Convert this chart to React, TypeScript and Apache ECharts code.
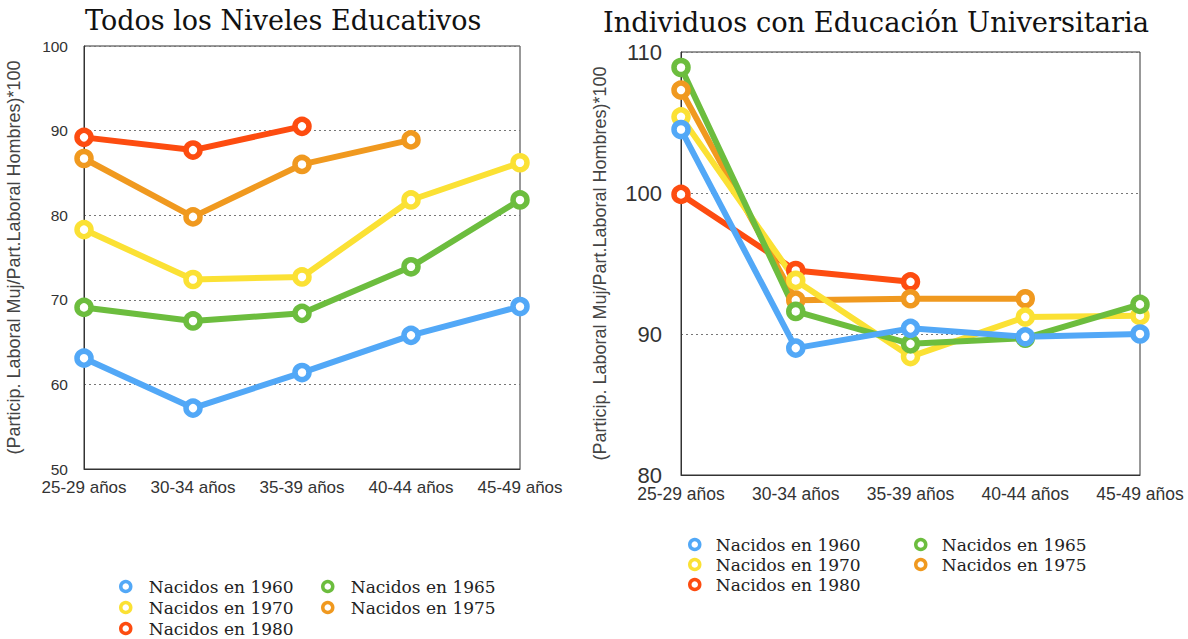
import React, { useEffect, useRef } from "react";
import * as echarts from "echarts";

const categories = ["25-29 años", "30-34 años", "35-39 años", "40-44 años", "45-49 años"];
const seriesNames = ["Nacidos en 1960", "Nacidos en 1965", "Nacidos en 1970", "Nacidos en 1975", "Nacidos en 1980"];
const colors = ["#52a8f7", "#6cbd3e", "#fbe134", "#f0991f", "#fd4c10"];

// Todos los Niveles Educativos
const left1960 = [63.1, 57.2, 61.4, 65.8, 69.2];
const left1965 = [69.1, 67.5, 68.4, 73.9, 81.8];
const left1970 = [78.3, 72.4, 72.7, 81.8, 86.2];
const left1975 = [86.7, 79.8, 86.0, 88.9, null];
const left1980 = [89.2, 87.7, 90.5, null, null];

// Individuos con Educación Universitaria
const right1960 = [104.5, 89.0, 90.4, 89.8, 90.0];
const right1965 = [108.9, 91.6, 89.3, 89.7, 92.1];
const right1970 = [105.4, 93.8, 88.4, 91.2, 91.3];
const right1975 = [107.3, 92.4, 92.5, 92.5, null];
const right1980 = [99.9, 94.5, 93.7, null, null];

const titles = ["Todos los Niveles Educativos", "Individuos con Educación Universitaria"];
const yAxisName = "(Particip. Laboral Muj/Part.Laboral Hombres)*100";

export default function App() {
  const ref = useRef<HTMLDivElement>(null);
  useEffect(() => {
    document.body.style.margin = "0";
    if (!ref.current) return;
    const chart = echarts.init(ref.current, undefined, { renderer: "svg" });
    const leftData = [left1960, left1965, left1970, left1975, left1980];
    const rightData = [right1960, right1965, right1970, right1975, right1980];
    const order = [4, 3, 2, 1, 0];
    const mkSeries = (data: (number | null)[][], idx: number) =>
      order.map((i) => ({
        type: "line",
        name: seriesNames[i],
        xAxisIndex: idx,
        yAxisIndex: idx,
        data: data[i],
        symbol: "circle",
        symbolSize: 14,
        clip: false,
        lineStyle: { color: colors[i], width: 6 },
        itemStyle: { color: "#fff", borderColor: colors[i], borderWidth: 5.5 },
        emphasis: { disabled: true },
      }));
    const legendItem = (i: number) => ({
      name: seriesNames[i],
      itemStyle: { color: "#fff", borderColor: colors[i], borderWidth: 3.5 },
    });
    const mkLegend = (items: number[], left: number, top: number, w: number, gap: number) => ({
      orient: "vertical",
      left,
      top,
      height: 120,
      padding: 0,
      itemGap: gap,
      itemWidth: w,
      itemHeight: 10,
      icon: "circle",
      data: items.map(legendItem),
      textStyle: { fontFamily: "DejaVu Serif", fontSize: 17, color: "#222" },
      selectedMode: false,
    });
    const xAxisCommon = (fs: number, margin: number) => ({
      type: "category",
      data: categories,
      boundaryGap: false,
      axisLine: { show: true, lineStyle: { color: "#333", width: 1 } },
      axisTick: { show: false },
      axisLabel: { color: "#333", fontFamily: "Liberation Sans", fontSize: fs, margin, interval: 0 },
      splitLine: { show: false },
    });
    const yAxisCommon = (min: number, max: number, fs: number, margin: number, gap: number) => ({
      type: "value",
      min,
      max,
      interval: 10,
      name: yAxisName,
      nameLocation: "middle",
      nameRotate: 90,
      nameGap: gap,
      nameTextStyle: { color: "#444", fontFamily: "Liberation Sans", fontSize: 18 },
      axisLine: { show: true, lineStyle: { color: "#333", width: 1 } },
      axisTick: { show: false },
      axisLabel: { color: "#333", fontFamily: "Liberation Sans", fontSize: fs, margin },
      splitLine: { show: true, lineStyle: { color: "#777", type: [2, 3], width: 1 } },
    });
    chart.setOption({
      animation: false,
      backgroundColor: "#fff",
      title: [
        {
          text: titles[0],
          left: 85,
          top: 7,
          padding: 0,
          textStyle: { fontFamily: "DejaVu Serif", fontSize: 27, fontWeight: "normal", color: "#111" },
        },
        {
          text: titles[1],
          left: 603,
          top: 9,
          padding: 0,
          textStyle: { fontFamily: "DejaVu Serif", fontSize: 27.3, fontWeight: "normal", color: "#111" },
        },
      ],
      legend: [
        mkLegend([0, 2, 4], 119, 578, 36, 4),
        mkLegend([1, 3], 321, 578, 36, 4),
        mkLegend([0, 2, 4], 688, 536, 32, 3),
        mkLegend([1, 3], 914, 536, 32, 3),
      ],
      grid: [
        { left: 84, top: 46, width: 436, height: 423, show: true, borderColor: "#333", borderWidth: 1, backgroundColor: "transparent" },
        { left: 681, top: 52, width: 459, height: 423, show: true, borderColor: "#333", borderWidth: 1, backgroundColor: "transparent" },
      ],
      xAxis: [
        { ...xAxisCommon(17, 10), gridIndex: 0 },
        { ...xAxisCommon(17.5, 10), gridIndex: 1 },
      ],
      yAxis: [
        { ...yAxisCommon(50, 100, 15.5, 16, 61), gridIndex: 0 },
        { ...yAxisCommon(80, 110, 22, 19, 72), gridIndex: 1 },
      ],
      series: [...mkSeries(leftData, 0), ...mkSeries(rightData, 1)],
    });
    return () => chart.dispose();
  }, []);
  return <div ref={ref} style={{ width: 1188, height: 639 }} />;
}
